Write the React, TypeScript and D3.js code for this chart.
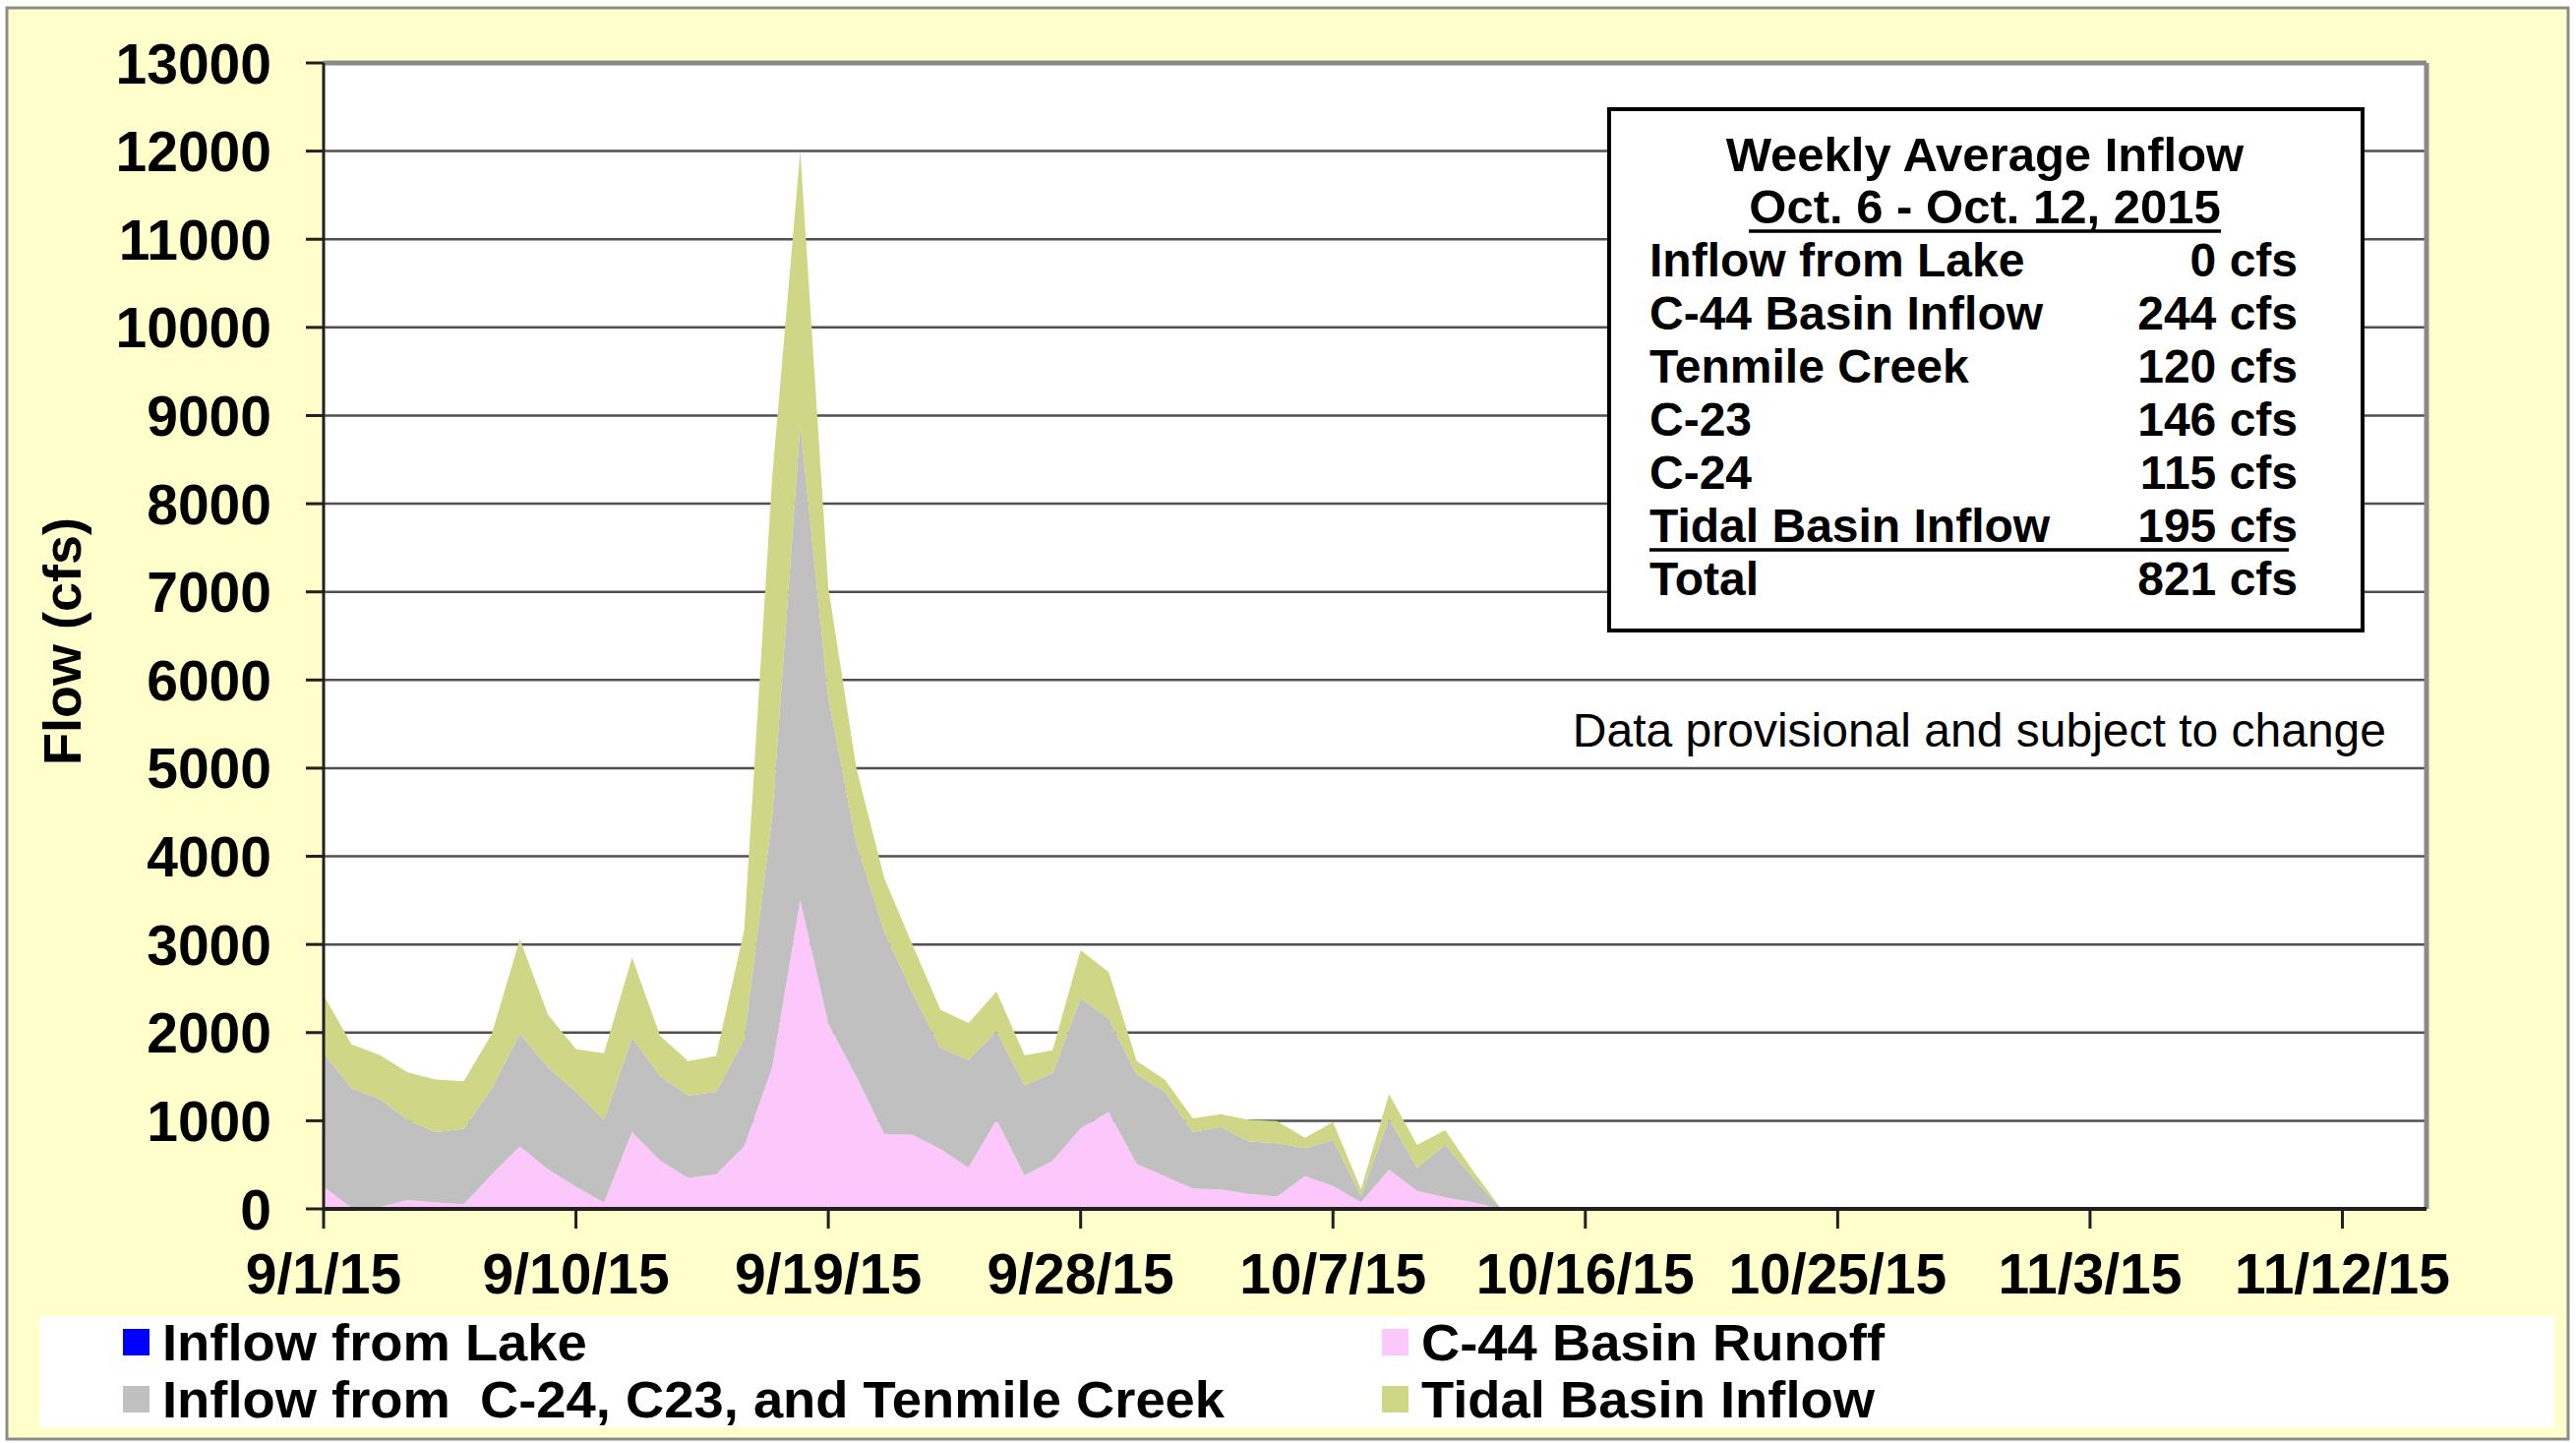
import React from "react";
import * as d3 from "d3";

const W = 2619;
const H = 1467;

// daily flows (cfs) from 9/1/15 to 10/13/15
const startDate = new Date(2015, 8, 1);
const endDate = new Date(2015, 10, 15);
const lakeInflow = [
  0, 0, 0, 0, 0, 0, 0, 0, 0, 0, 0, 0, 0, 0, 0, 0, 0, 0, 0, 0, 0, 0,
  0, 0, 0, 0, 0, 0, 0, 0, 0, 0, 0, 0, 0, 0, 0, 0, 0, 0, 0, 0, 0,
];
const c44Runoff = [
  251, 10, 20, 100, 72, 52, 391, 709, 450, 251, 72, 869, 550, 351, 391, 709,
  1606, 3500, 2100, 1500, 850, 840, 680, 470, 1010, 380, 545, 915, 1100, 510,
  371, 231, 219, 171, 140, 372, 260, 74, 446, 205, 130, 74, 0,
];
const c24c23Tenmile = [
  1515, 1357, 1228, 908, 797, 857, 976, 1276, 1156, 1076, 936, 1076, 957, 936,
  936, 1216, 2844, 5400, 3700, 2650, 2290, 1610, 1150, 1217, 1005, 1020, 995,
  1475, 1060, 1017, 956, 638, 710, 594, 605, 316, 521, 75, 577, 260, 595, 276, 0,
];
const tidalInflow = [
  658, 498, 498, 539, 598, 538, 618, 1076, 598, 487, 758, 905, 458, 391, 407,
  1236, 3850, 3100, 1250, 850, 610, 550, 430, 423, 450, 340, 260, 545, 526, 151,
  140, 159, 146, 245, 250, 119, 205, 74, 279, 260, 168, 80, 0,
];

const xTickLabels = ["9/1/15", "9/10/15", "9/19/15", "9/28/15", "10/7/15", "10/16/15", "10/25/15", "11/3/15", "11/12/15"];
const yTicks = [0, 1000, 2000, 3000, 4000, 5000, 6000, 7000, 8000, 9000, 10000, 11000, 12000, 13000];

const tableLabels = ["Inflow from Lake", "C-44 Basin Inflow", "Tenmile Creek", "C-23", "C-24", "Tidal Basin Inflow", "Total"];
const tableValues = ["0 cfs", "244 cfs", "120 cfs", "146 cfs", "115 cfs", "195 cfs", "821 cfs"];

const seriesKeys = ["lake", "c44", "basin", "tidal"];
const seriesColors = ["#0000FF", "#FCC8FC", "#C0C0C0", "#CFD685"];
const legendNames = [
  "Inflow from Lake",
  "C-44 Basin Runoff",
  "Inflow from  C-24, C23, and Tenmile Creek",
  "Tidal Basin Inflow",
];

const FONT = "'Liberation Sans', Arial, sans-serif";

export default function App() {
  const left = 329, right = 2467, top = 64, bottom = 1229;

  const x = d3.scaleTime().domain([startDate, endDate]).range([left, right]);
  const y = d3.scaleLinear().domain([0, 13000]).range([bottom, top]);

  const rows = c44Runoff.map((_, i) => ({
    date: d3.timeDay.offset(startDate, i),
    lake: lakeInflow[i],
    c44: c44Runoff[i],
    basin: c24c23Tenmile[i],
    tidal: tidalInflow[i],
  }));

  const stacked = d3.stack<any>().keys(seriesKeys)(rows);
  const area = d3
    .area<any>()
    .x((d) => x(d.data.date))
    .y0((d) => y(d[0]))
    .y1((d) => y(d[1]));

  const xTickDates = xTickLabels.map((t) => {
    const [m, d, yy] = t.split("/").map(Number);
    return new Date(2000 + yy, m - 1, d);
  });

  // legend layout: two columns, two rows
  const legendPos = [
    { x: 125, y: 1365 },
    { x: 1405, y: 1365 },
    { x: 125, y: 1423 },
    { x: 1405, y: 1423 },
  ];

  return (
    <svg
      width={W}
      height={H}
      style={{ position: "absolute", left: 0, top: 0, background: "#fff" }}
      fontFamily={FONT}
    >
      <rect x={7} y={8} width={2604} height={1455} fill="#FFFFCC" stroke="#8c8c8c" strokeWidth={3} />

      {/* plot area */}
      <rect x={left} y={top} width={right - left} height={bottom - top} fill="#fff" />
      {yTicks.slice(1, -1).map((v) => (
        <line key={v} x1={left} x2={right} y1={y(v)} y2={y(v)} stroke="#505050" strokeWidth={2.5} />
      ))}

      {stacked.map((s, i) => (
        <path key={s.key} d={area(s) || ""} fill={seriesColors[i]} />
      ))}

      {/* plot border */}
      <line x1={left} x2={right} y1={top} y2={top} stroke="#8a8a8a" strokeWidth={5} />
      <line x1={right} x2={right} y1={top} y2={bottom} stroke="#8a8a8a" strokeWidth={5} />
      <line x1={left} x2={right} y1={bottom} y2={bottom} stroke="#202020" strokeWidth={4} />
      <line x1={left} x2={left} y1={top} y2={bottom + 2} stroke="#202020" strokeWidth={3} />

      {/* y axis */}
      {yTicks.map((v) => (
        <g key={v}>
          <line x1={left - 18} x2={left} y1={y(v)} y2={y(v)} stroke="#202020" strokeWidth={3} />
          <text x={276} y={y(v)} dy="0.36em" textAnchor="end" fontSize={57} fontWeight="bold">
            {v}
          </text>
        </g>
      ))}
      <text
        transform={`translate(82,${652}) rotate(-90)`}
        textAnchor="middle"
        fontSize={54}
        fontWeight="bold"
      >
        Flow (cfs)
      </text>

      {/* x axis */}
      {xTickDates.map((d, i) => (
        <g key={xTickLabels[i]}>
          <line x1={x(d)} x2={x(d)} y1={bottom} y2={bottom + 20} stroke="#202020" strokeWidth={3} />
          <text x={x(d)} y={1315} textAnchor="middle" fontSize={57} fontWeight="bold">
            {xTickLabels[i]}
          </text>
        </g>
      ))}

      {/* weekly summary box */}
      <rect x={1636} y={111} width={766} height={530} fill="#fff" stroke="#000" strokeWidth={4} />
      <text x={2018} y={174} textAnchor="middle" fontSize={49} fontWeight="bold">
        Weekly Average Inflow
      </text>
      <text x={2018} y={227} textAnchor="middle" fontSize={49} fontWeight="bold">
        Oct. 6 - Oct. 12, 2015
      </text>
      <line x1={1778} x2={2258} y1={235} y2={235} stroke="#000" strokeWidth={3.5} />
      {tableLabels.map((t, i) => (
        <g key={t}>
          <text x={1677} y={281 + i * 54} fontSize={48} fontWeight="bold">
            {t}
          </text>
          <text x={2336} y={281 + i * 54} textAnchor="end" fontSize={48} fontWeight="bold">
            {tableValues[i]}
          </text>
        </g>
      ))}
      <line x1={1677} x2={2327} y1={559} y2={559} stroke="#000" strokeWidth={3.5} />

      <text x={2426} y={759} textAnchor="end" fontSize={48}>
        Data provisional and subject to change
      </text>

      {/* legend */}
      <rect x={40} y={1338} width={2557} height={113} fill="#fff" />
      {legendNames.map((name, i) => (
        <g key={name}>
          <rect x={legendPos[i].x} y={legendPos[i].y - 14} width={27} height={27} fill={seriesColors[i]} />
          <text
            transform={`translate(${legendPos[i].x + 40},${legendPos[i].y}) scale(1.066,1)`}
            dy="0.36em"
            fontSize={51}
            fontWeight="bold"
            style={{ whiteSpace: "pre" }}
          >
            {name}
          </text>
        </g>
      ))}
    </svg>
  );
}
